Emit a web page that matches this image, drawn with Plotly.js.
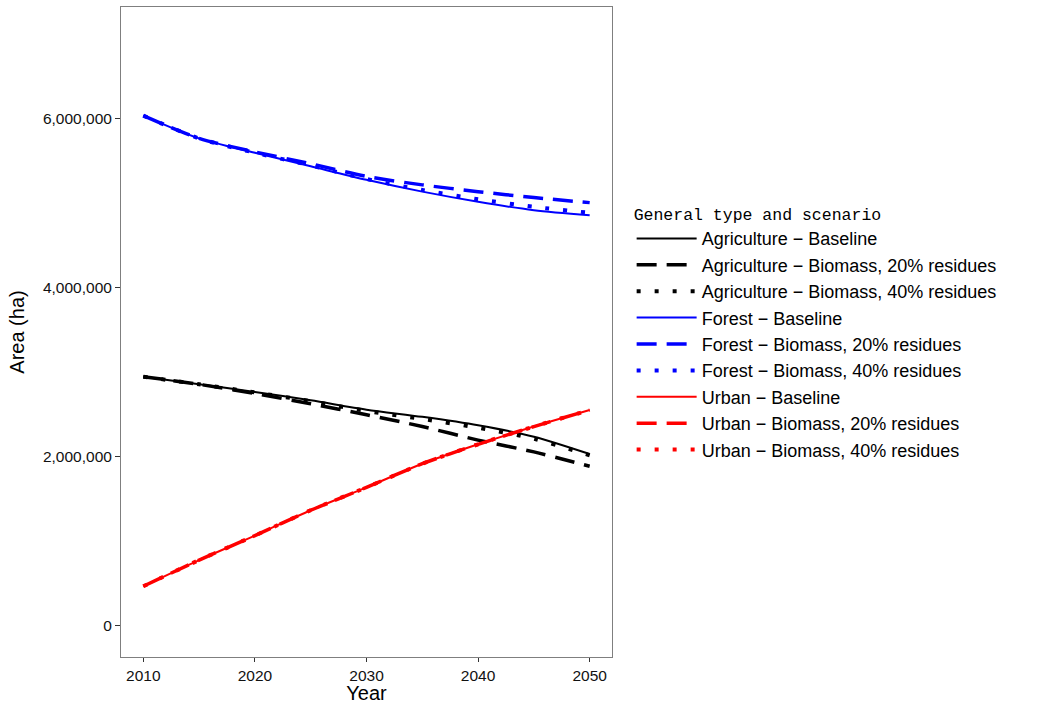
<!DOCTYPE html>
<html>
<head>
<meta charset="utf-8">
<script src="https://cdn.plot.ly/plotly-3.0.1.min.js"></script>
<style>html,body{margin:0;padding:0;background:#fff;}#chart{width:1057px;height:704px;}</style>
</head>
<body>
<div id="chart"></div>
<script>
const years = [2010, 2015, 2020, 2025, 2030, 2035, 2040, 2045, 2050];

const agriBaseline = [2950000, 2860000, 2770000, 2670000, 2560000, 2475000, 2375000, 2240000, 2035000];
const agriBio20    = [2950000, 2860000, 2750000, 2630000, 2500000, 2360000, 2200000, 2060000, 1890000];
const agriBio40    = [2950000, 2860000, 2765000, 2660000, 2545000, 2450000, 2345000, 2215000, 2020000];

const forestBaseline = [6040000, 5770000, 5600000, 5440000, 5280000, 5140000, 5020000, 4920000, 4860000];
const forestBio20    = [6040000, 5770000, 5610000, 5470000, 5320000, 5220000, 5140000, 5070000, 5010000];
const forestBio40    = [6040000, 5770000, 5600000, 5450000, 5290000, 5160000, 5050000, 4960000, 4890000];

const urbanBaseline = [470000, 780000, 1070000, 1370000, 1640000, 1920000, 2150000, 2360000, 2555000];
const urbanBio20    = [470000, 780000, 1070000, 1370000, 1640000, 1920000, 2150000, 2360000, 2555000];
const urbanBio40    = [470000, 780000, 1070000, 1370000, 1640000, 1920000, 2150000, 2360000, 2555000];

const seriesNames = [
  "Agriculture \u2212 Baseline", "Agriculture \u2212 Biomass, 20% residues", "Agriculture \u2212 Biomass, 40% residues",
  "Forest \u2212 Baseline", "Forest \u2212 Biomass, 20% residues", "Forest \u2212 Biomass, 40% residues",
  "Urban \u2212 Baseline", "Urban \u2212 Biomass, 20% residues", "Urban \u2212 Biomass, 40% residues"
];
const seriesValues = [agriBaseline, agriBio20, agriBio40, forestBaseline, forestBio20, forestBio40, urbanBaseline, urbanBio20, urbanBio40];
const colors = ["#000000", "#000000", "#000000", "#0000ff", "#0000ff", "#0000ff", "#ff0000", "#ff0000", "#ff0000"];
const dashes = ["solid", "20px,10px", "4px,14px", "solid", "20px,10px", "4px,14px", "solid", "20px,10px", "4px,14px"];
const widths = [2, 3.5, 4, 2, 3.5, 4, 2, 3.5, 4];

const traces = seriesNames.map((n, i) => ({
  type: "scatter", mode: "lines", name: n, x: years, y: seriesValues[i],
  line: {color: colors[i], dash: dashes[i], width: widths[i], shape: "spline", smoothing: 0.8}
}));

const layout = {
  width: 1057, height: 704,
  margin: {l: 121, r: 445, t: 7, b: 47},
  paper_bgcolor: "#fff", plot_bgcolor: "#fff",
  font: {family: "Liberation Sans, Arial, sans-serif", color: "#000"},
  xaxis: {
    range: [2008, 2052], tickvals: [2010, 2020, 2030, 2040, 2050],
    showgrid: false, zeroline: false, ticks: "outside", ticklen: 4, tickcolor: "#333",
    showline: true, mirror: true, linecolor: "#7f7f7f", linewidth: 1,
    tickfont: {size: 15.5, color: "#111"},
    title: {text: "Year", font: {size: 20, color: "#000"}, standoff: 6}
  },
  yaxis: {
    range: [-367000, 7325000], tickvals: [0, 2000000, 4000000, 6000000],
    ticktext: ["0", "2,000,000", "4,000,000", "6,000,000"],
    showgrid: false, zeroline: false, ticks: "outside", ticklen: 5, tickcolor: "#333",
    showline: true, mirror: true, linecolor: "#7f7f7f", linewidth: 1,
    tickfont: {size: 15.5, color: "#111"},
    title: {text: "Area (ha)", font: {size: 20, color: "#000"}, standoff: 12}
  },
  legend: {
    x: 1.04, xanchor: "left", y: 0.705, yanchor: "top",
    font: {size: 18, color: "#000"},
    tracegroupgap: 0, itemwidth: 60,
    title: {text: "General type and scenario", font: {family: "Liberation Mono, Courier New, monospace", size: 16.5, color: "#000"}}
  },
  showlegend: true
};

Plotly.newPlot("chart", traces, layout, {displayModeBar: false, staticPlot: true});
</script>
</body>
</html>
